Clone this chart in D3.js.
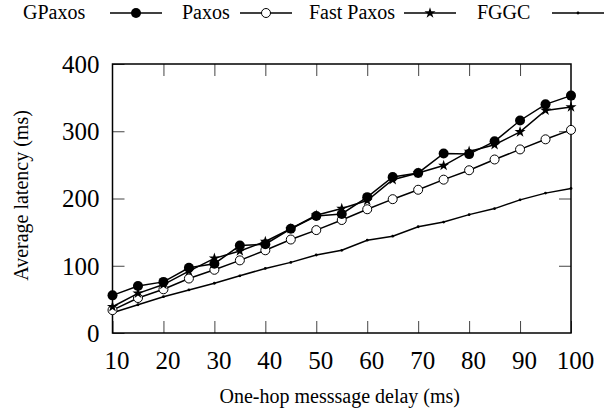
<!DOCTYPE html>
<html>
<head>
<meta charset="utf-8">
<script src="https://cdn.jsdelivr.net/npm/d3@7"></script>
<style>
  body { margin: 0; background: #fff; }
  text { font-family: "Liberation Serif", "Times New Roman", serif; fill: #000; }
</style>
</head>
<body>
<div id="chart"></div>
<script>
// data
var delays = [10, 15, 20, 25, 30, 35, 40, 45, 50, 55, 60, 65, 70, 75, 80, 85, 90, 95, 100];
var gpaxos = [56, 70, 76, 97, 103, 130, 132, 155, 174, 177, 202, 232, 238, 267, 266, 285, 316, 340, 353];
var paxos = [34, 52, 65, 81, 94, 108, 123, 139, 153, 168, 184, 199, 213, 228, 242, 258, 273, 288, 302];
var fastPaxos = [39, 59, 72, 92, 111, 122, 136, 155, 175, 185, 197, 228, 238, 249, 270, 280, 299, 331, 336];
var fggc = [30, 42, 54, 64, 74, 85, 96, 105, 116, 123, 138, 144, 158, 165, 176, 185, 198, 208, 215];
var seriesNames = ["GPaxos", "Paxos", "Fast Paxos", "FGGC"];
var xTicks = [10, 20, 30, 40, 50, 60, 70, 80, 90, 100];
var yTicks = [0, 100, 200, 300, 400];

var svgWidth = 608;
var svgHeight = 409;

var plot = { left: 112.5, right: 571, top: 64, bottom: 333 };

var svg = d3.select("#chart")
    .append("svg")
    .attr("width", svgWidth)
    .attr("height", svgHeight);

var x = d3.scaleLinear().domain([10, 100]).range([plot.left, plot.right]);
var y = d3.scaleLinear().domain([0, 400]).range([plot.bottom, plot.top]);

var tickLen = 12;

// bottom axis with inward ticks
var bottomAxis = svg.append("g")
    .attr("transform", `translate(0, ${plot.bottom})`)
    .call(d3.axisBottom(x).tickValues(xTicks).tickSizeInner(-tickLen).tickSizeOuter(0));
bottomAxis.selectAll("text")
    .attr("y", 36).attr("dy", 0).attr("dx", 4)
    .style("font-size", "25px");

// mirrored ticks on top
svg.append("g")
    .attr("transform", `translate(0, ${plot.top})`)
    .call(d3.axisTop(x).tickValues(xTicks.slice(1, -1)).tickSizeInner(-tickLen).tickSizeOuter(0).tickFormat(""));

// left axis
var leftAxis = svg.append("g")
    .attr("transform", `translate(${plot.left}, 0)`)
    .call(d3.axisLeft(y).tickValues(yTicks).tickSizeInner(-tickLen).tickSizeOuter(0));
leftAxis.selectAll("text")
    .attr("x", -13).attr("dy", "0.33em")
    .style("font-size", "25px");

// mirrored ticks on right
svg.append("g")
    .attr("transform", `translate(${plot.right}, 0)`)
    .call(d3.axisRight(y).tickValues(yTicks.slice(1, -1)).tickSizeInner(-tickLen).tickSizeOuter(0).tickFormat(""));

svg.selectAll(".domain").remove();
svg.selectAll(".tick line").attr("stroke", "#444").attr("stroke-width", 1);

// frame
svg.append("rect")
    .attr("x", plot.left).attr("y", plot.top)
    .attr("width", plot.right - plot.left)
    .attr("height", plot.bottom - plot.top)
    .attr("fill", "none")
    .attr("stroke", "#000")
    .attr("stroke-width", 1.5);

// axis titles
svg.append("text")
    .attr("x", (plot.left + plot.right) / 2 - 2)
    .attr("y", 403)
    .attr("text-anchor", "middle")
    .style("font-size", "20px")
    .text("One-hop messsage delay (ms)");

svg.append("text")
    .attr("transform", `translate(28, ${(plot.top + plot.bottom) / 2 - 3}) rotate(-90)`)
    .attr("text-anchor", "middle")
    .style("font-size", "20px")
    .text("Average latency (ms)");

// markers
function drawMarker(g, name, cx, cy) {
    if (name == "GPaxos") {
        g.append("circle").attr("cx", cx).attr("cy", cy).attr("r", 5).attr("fill", "#000");
    } else if (name == "Paxos") {
        g.append("circle").attr("cx", cx).attr("cy", cy).attr("r", 4.5)
            .attr("fill", "#fff").attr("stroke", "#000").attr("stroke-width", 1);
    } else if (name == "Fast Paxos") {
        g.append("path")
            .attr("d", d3.symbol().type(d3.symbolStar).size(38)())
            .attr("transform", `translate(${cx}, ${cy})`)
            .attr("fill", "#000");
    } else {
        g.append("circle").attr("cx", cx).attr("cy", cy).attr("r", 1.4).attr("fill", "#000");
    }
}

var seriesValues = {
    "GPaxos": gpaxos,
    "Paxos": paxos,
    "Fast Paxos": fastPaxos,
    "FGGC": fggc
};

var line = d3.line()
    .x(d => x(d[0]))
    .y(d => y(d[1]));

// draw bottom series first so GPaxos ends on top
["FGGC", "Paxos", "Fast Paxos", "GPaxos"].forEach(function (name) {
    var pts = delays.map((d, i) => [d, seriesValues[name][i]]);
    var g = svg.append("g");
    g.append("path")
        .datum(pts)
        .attr("d", line)
        .attr("fill", "none")
        .attr("stroke", "#000")
        .attr("stroke-width", 1.5);
    pts.forEach(p => drawMarker(g, name, x(p[0]), y(p[1])));
});

// legend
var legendTextX = [23, 182, 309, 477];
var legendLineX = [110, 240, 404, 552];
var legendLineLen = 52;
var legendY = 13;

seriesNames.forEach(function (name, i) {
    var g = svg.append("g");
    g.append("text")
        .attr("x", legendTextX[i])
        .attr("y", legendY + 6)
        .style("font-size", "20px")
        .text(name);
    g.append("line")
        .attr("x1", legendLineX[i]).attr("x2", legendLineX[i] + legendLineLen)
        .attr("y1", legendY).attr("y2", legendY)
        .attr("stroke", "#000").attr("stroke-width", 1.5);
    drawMarker(g, name, legendLineX[i] + legendLineLen / 2, legendY);
});
</script>
</body>
</html>
